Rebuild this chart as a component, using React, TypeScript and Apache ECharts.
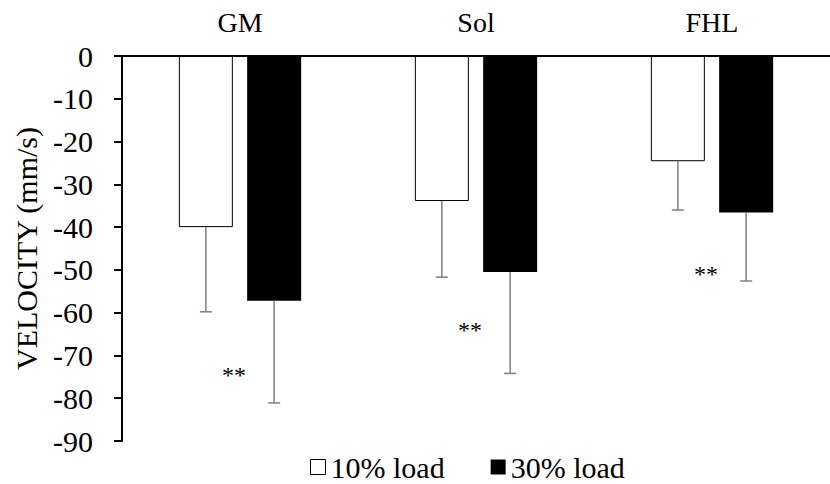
import React, { useEffect, useRef } from "react";
import * as echarts from "echarts";

const categories = ["GM", "Sol", "FHL"];
const seriesNames = ["10% load", "30% load"];
const load10 = [-40.0, -33.9, -24.6];
const load30 = [-57.2, -50.5, -36.6];
const sd10 = [19.8, 17.8, 11.4];
const sd30 = [23.9, 23.7, 16.0];
const starLabel = "**";
const starPos = [-74.6, -64.1, -50.9];
const yTicks = { min: -90, max: 0, interval: 10 };

const FONT = "'Liberation Serif', 'Times New Roman', serif";
const FS = 30;
const BAR_W = 54;
const BAR_GAP_PX = 14.3;
const OFFSET = (BAR_W + BAR_GAP_PX) / 2;

export default function App() {
  const ref = useRef<HTMLDivElement>(null);
  useEffect(() => {
    document.body.style.margin = "0";
    if (!ref.current) return;
    const chart = echarts.init(ref.current, null, { renderer: "svg" });

    const errRender = (offset: number, values: number[], sds: number[]) =>
      (params: any, api: any) => {
        const i = api.value(0);
        const base = api.coord([i, values[i]]);
        const end = api.coord([i, values[i] - sds[i]]);
        const x = base[0] + offset;
        const cap = 6;
        const style = { stroke: "#7f7f7f", lineWidth: 1.5 };
        return {
          type: "group",
          children: [
            { type: "line", shape: { x1: x, y1: base[1], x2: x, y2: end[1] }, style },
            { type: "line", shape: { x1: x - cap, y1: end[1], x2: x + cap, y2: end[1] }, style },
          ],
        };
      };

    const starRender = (params: any, api: any) => {
      const i = api.value(0);
      const p = api.coord([i, api.value(1)]);
      return {
        type: "text",
        x: p[0] - 6,
        y: p[1],
        style: {
          text: starLabel,
          fill: "#000",
          font: `24px ${FONT}`,
          align: "center",
          verticalAlign: "middle",
        },
      };
    };

    chart.setOption({
      animation: false,
      textStyle: { fontFamily: FONT, color: "#000" },
      grid: { left: 122, right: -12, top: 56, bottom: 43 },
      legend: {
        top: 447,
        left: 305,
        itemWidth: 15,
        itemHeight: 15,
        itemGap: 46,
        icon: "rect",
        textStyle: { fontFamily: FONT, fontSize: FS, color: "#000", lineHeight: 30 },
        data: [
          { name: seriesNames[0], itemStyle: { color: "#fff", borderColor: "#000", borderWidth: 1 } },
          { name: seriesNames[1], itemStyle: { color: "#000", borderColor: "#000", borderWidth: 0 } },
        ],
      },
      xAxis: {
        type: "category",
        data: categories,
        position: "top",
        axisLine: { show: true, lineStyle: { color: "#000", width: 2 } },
        axisTick: { show: false },
        axisLabel: { fontFamily: FONT, fontSize: 28, color: "#000", margin: 20 },
      },
      yAxis: {
        type: "value",
        min: yTicks.min,
        max: yTicks.max,
        interval: yTicks.interval,
        name: "VELOCITY (mm/s)",
        nameLocation: "middle",
        nameRotate: 90,
        nameGap: 81,
        nameTextStyle: { fontFamily: FONT, fontSize: FS, color: "#000" },
        axisLine: { show: true, lineStyle: { color: "#000", width: 2 } },
        axisTick: { show: true, length: 8, lineStyle: { color: "#000", width: 2 } },
        axisLabel: { fontFamily: FONT, fontSize: FS, color: "#000", margin: 29 },
        splitLine: { show: false },
      },
      series: [
        {
          name: seriesNames[0],
          type: "bar",
          data: load10,
          barWidth: BAR_W,
          barGap: (BAR_GAP_PX / BAR_W) * 100 + "%",
          itemStyle: { color: "#fff", borderColor: "#000", borderWidth: 1 },
        },
        {
          name: seriesNames[1],
          type: "bar",
          data: load30,
          barWidth: BAR_W,
          barGap: (BAR_GAP_PX / BAR_W) * 100 + "%",
          itemStyle: { color: "#000", borderColor: "#000", borderWidth: 0 },
        },
        {
          type: "custom",
          renderItem: errRender(-OFFSET, load10, sd10),
          data: categories.map((_, i) => [i]),
          encode: { x: 0 },
          z: 3,
          silent: true,
        },
        {
          type: "custom",
          renderItem: errRender(OFFSET, load30, sd30),
          data: categories.map((_, i) => [i]),
          encode: { x: 0 },
          z: 3,
          silent: true,
        },
        {
          type: "custom",
          renderItem: starRender,
          data: starPos.map((v, i) => [i, v]),
          encode: { x: 0, y: 1 },
          z: 4,
          silent: true,
        },
      ],
    });
    return () => chart.dispose();
  }, []);
  return <div ref={ref} style={{ width: 830, height: 484 }} />;
}
